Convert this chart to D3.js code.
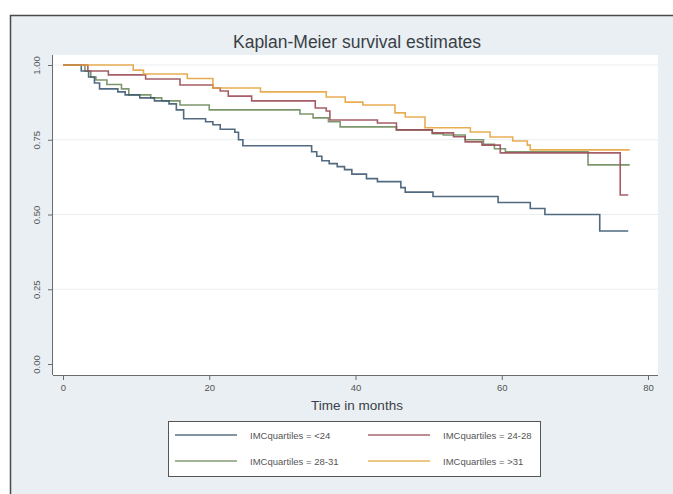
<!DOCTYPE html>
<html>
<head>
<meta charset="utf-8">
<script src="https://d3js.org/d3.v7.min.js"></script>
<style>
  body { margin: 0; background: #ffffff; }
  text { font-family: "Liberation Sans", Arial, sans-serif; }
</style>
</head>
<body>
<script>

// Survival times (months) and estimates for each group
var timesLt24 = [0, 2.5, 3.5, 4.3, 5.0, 7.5, 8.5, 10.5, 12.5, 14.5, 15.5, 16.5, 19.5, 20.5, 21.5, 23.5, 24, 24.6, 34, 34.7, 35.4, 36.4, 37.5, 38.5, 39.5, 41.5, 43, 46.2, 46.8, 50.6, 59.5, 63.9, 65.9, 73.4, 77.3];
var survLt24 = [1.0, 0.98, 0.96, 0.94, 0.92, 0.91, 0.90, 0.89, 0.88, 0.87, 0.85, 0.82, 0.81, 0.80, 0.785, 0.775, 0.75, 0.73, 0.71, 0.695, 0.68, 0.67, 0.66, 0.65, 0.635, 0.62, 0.61, 0.59, 0.575, 0.56, 0.54, 0.52, 0.50, 0.445, 0.445];

var times2428 = [0, 3.4, 6.2, 11.3, 16, 20.5, 21.5, 22.6, 25.8, 34.5, 36, 36.5, 43, 45.6, 50.5, 53.4, 55, 57.3, 59.8, 76.2, 77.3];
var surv2428 = [1.0, 0.98, 0.967, 0.953, 0.933, 0.923, 0.913, 0.896, 0.88, 0.856, 0.846, 0.816, 0.806, 0.783, 0.773, 0.76, 0.743, 0.732, 0.706, 0.565, 0.565];

var times2831 = [0, 3, 3.8, 4.5, 6, 8, 9, 12, 13.5, 16, 20, 32.4, 34.2, 36.3, 37.9, 45.6, 50.5, 52, 55, 57.5, 59, 60.5, 71.8, 77.5];
var surv2831 = [1.0, 0.98, 0.96, 0.95, 0.935, 0.92, 0.90, 0.89, 0.88, 0.866, 0.85, 0.836, 0.823, 0.81, 0.793, 0.783, 0.77, 0.766, 0.75, 0.735, 0.72, 0.71, 0.666, 0.666];

var timesGt31 = [0, 9.6, 11, 17, 20.5, 27, 36, 38.6, 41, 45.4, 46.8, 49.5, 55.7, 58.4, 61.5, 63.5, 63.9, 77.5];
var survGt31 = [1.0, 0.983, 0.97, 0.955, 0.923, 0.91, 0.893, 0.876, 0.866, 0.84, 0.826, 0.79, 0.776, 0.759, 0.746, 0.732, 0.716, 0.716];

var groupNames = ["IMCquartiles = <24", "IMCquartiles = 24-28", "IMCquartiles = 28-31", "IMCquartiles = >31"];
var groupColors = ["#3e5a72", "#9b4b57", "#6f8c5c", "#e5a440"];

var xTicks = [0, 20, 40, 60, 80];
var yTicks = [0, 0.25, 0.5, 0.75, 1];

var width_svg = 673;
var height_svg = 494;

var svg = d3.select("body")
            .append("svg")
            .attr("width", width_svg)
            .attr("height", height_svg);

// Graph region background with frame
svg.append("rect")
    .attr("x", 10)
    .attr("y", 15)
    .attr("width", 663)
    .attr("height", 479)
    .attr("fill", "#e9eff2");
svg.append("path")
    .attr("d", "M10.5,494 L10.5,15.5 L673,15.5")
    .attr("fill", "none")
    .attr("stroke", "#4a4a4a")
    .attr("stroke-width", 1.5);

// Plot region
svg.append("rect")
    .attr("x", 53)
    .attr("y", 55)
    .attr("width", 605)
    .attr("height", 320)
    .attr("fill", "#ffffff");

// Scales
var xScale = d3.scaleLinear()
                .domain([0, 80])
                .range([63, 648]);
var yScale = d3.scaleLinear()
                .domain([0, 1])
                .range([364, 65]);

// Gridlines
svg.append("g")
    .selectAll("line")
    .data(yTicks.slice(1))
    .enter()
    .append("line")
    .attr("x1", 53)
    .attr("x2", 658)
    .attr("y1", function(d) { return yScale(d); })
    .attr("y2", function(d) { return yScale(d); })
    .attr("stroke", "#eaeef0")
    .attr("stroke-width", 1.2);

// x-axis
var xAxis = d3.axisBottom(xScale)
              .tickValues(xTicks)
              .tickFormat(d3.format("d"))
              .tickSize(5)
              .tickPadding(4);
var gx = svg.append("g")
    .attr("transform", "translate(0, 375)")
    .call(xAxis);
gx.select(".domain").attr("d", "M53,0.5H658").attr("stroke", "#6b6b6b");
gx.selectAll(".tick line").attr("stroke", "#6b6b6b");
gx.selectAll(".tick text")
    .attr("font-size", "9.5px")
    .attr("fill", "#555")
    .style("font-family", "Liberation Sans, Arial, sans-serif");

// y-axis
var yAxis = d3.axisLeft(yScale)
              .tickValues(yTicks)
              .tickFormat(d3.format(".2f"))
              .tickSize(5);
var gy = svg.append("g")
    .attr("transform", "translate(53, 0)")
    .call(yAxis);
gy.select(".domain").attr("d", "M-0.5,55V375").attr("stroke", "#6b6b6b");
gy.selectAll(".tick line").attr("stroke", "#6b6b6b");
gy.selectAll(".tick text")
    .attr("x", 0)
    .attr("dy", 0)
    .attr("transform", "translate(-13, 0) rotate(-90)")
    .attr("text-anchor", "middle")
    .attr("font-size", "9.5px")
    .attr("fill", "#555")
    .style("font-family", "Liberation Sans, Arial, sans-serif");

// Title and axis label
svg.append("text")
    .attr("x", 357)
    .attr("y", 48)
    .attr("text-anchor", "middle")
    .attr("font-size", "17.5px")
    .attr("fill", "#3a3f47")
    .text("Kaplan-Meier survival estimates");

svg.append("text")
    .attr("x", 357)
    .attr("y", 410)
    .attr("text-anchor", "middle")
    .attr("font-size", "13.5px")
    .attr("fill", "#3a3f47")
    .text("Time in months");

// Step curves
var series = [
    {t: timesLt24, s: survLt24},
    {t: times2428, s: surv2428},
    {t: times2831, s: surv2831},
    {t: timesGt31, s: survGt31}
];

var line = d3.line()
             .x(function(d) { return xScale(d[0]); })
             .y(function(d) { return yScale(d[1]); })
             .curve(d3.curveStepAfter);

// draw green, blue, red, orange so the ordering looks like the picture
var drawOrder = [2, 0, 1, 3];
drawOrder.forEach(function(i) {
    var pts = series[i].t.map(function(t, j) { return [t, series[i].s[j]]; });
    svg.append("path")
        .datum(pts)
        .attr("d", line)
        .attr("fill", "none")
        .attr("stroke", groupColors[i])
        .attr("stroke-width", 1.6)
        .attr("opacity", 0.9);
});

// Legend
var legend = svg.append("g");
legend.append("rect")
    .attr("x", 168.5)
    .attr("y", 421.5)
    .attr("width", 372)
    .attr("height", 55)
    .attr("fill", "#ffffff")
    .attr("stroke", "#555")
    .attr("stroke-width", 1);

var legX = [175, 368];
var legY = [435, 461];
groupNames.forEach(function(name, i) {
    var col = i % 2;
    var row = Math.floor(i / 2);
    legend.append("line")
        .attr("x1", legX[col])
        .attr("x2", legX[col] + 62)
        .attr("y1", legY[row])
        .attr("y2", legY[row])
        .attr("stroke", groupColors[i])
        .attr("stroke-width", 1.6)
        .attr("opacity", 0.85);
    legend.append("text")
        .attr("x", legX[col] + 75)
        .attr("y", legY[row] + 3.5)
        .attr("font-size", "9.5px")
        .attr("fill", "#555")
        .text(name);
});

</script>
</body>
</html>
